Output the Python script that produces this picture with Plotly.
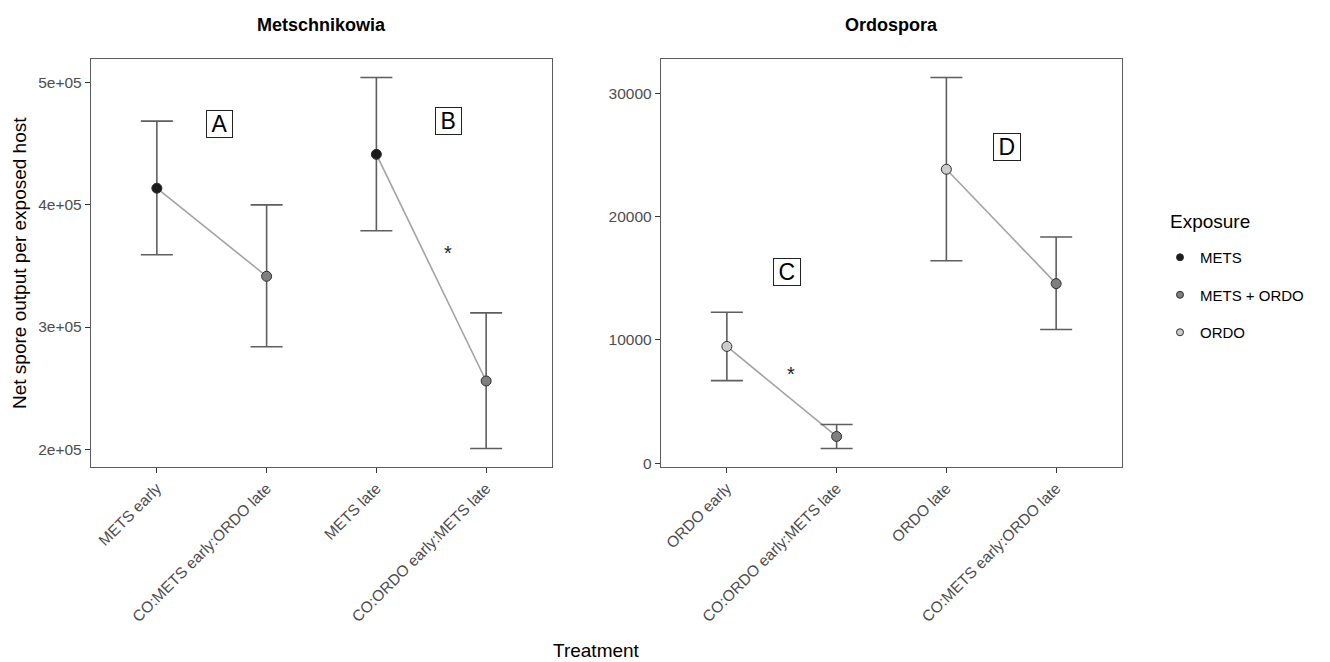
import plotly.graph_objects as go

# ---------------- data ----------------
met_categories = ["METS early", "CO:METS early:ORDO late", "METS late", "CO:ORDO early:METS late"]
met_exposure = ["METS", "METS + ORDO", "METS", "METS + ORDO"]
met_mean = [413700, 341550, 441460, 255790]
met_upper = [468700, 400080, 504360, 311600]
met_lower = [359240, 283830, 378850, 200520]

ord_categories = ["ORDO early", "CO:ORDO early:METS late", "ORDO late", "CO:METS early:ORDO late"]
ord_exposure = ["ORDO", "METS + ORDO", "ORDO", "METS + ORDO"]
ord_mean = [9469, 2158, 23847, 14567]
ord_upper = [12247, 3129, 31292, 18344]
ord_lower = [6690, 1187, 16428, 10844]

met_yticks = [200000, 300000, 400000, 500000]
met_yticktext = ["2e+05", "3e+05", "4e+05", "5e+05"]
ord_yticks = [0, 10000, 20000, 30000]
ord_yticktext = ["0", "10000", "20000", "30000"]

pairs = [[0, 1], [2, 3]]
exposure_levels = ["METS", "METS + ORDO", "ORDO"]
panel_titles = ["Metschnikowia", "Ordospora"]
met_letters = ["A", "B"]
ord_letters = ["C", "D"]

# ---------------- styles ----------------
FONT = "Liberation Sans, Arial, Helvetica, sans-serif"
exposure_colors = {"METS": "#1c1c1c", "METS + ORDO": "#7f7f7f", "ORDO": "#cccccc"}
W, H = 1330, 662
OFF = 8  # page body margin


def px(x):
    return (x - OFF) / W


def py(y):
    return 1 - (y - OFF) / H


fig = go.Figure()


def add_panel(cats, expo, mean, upper, lower, xa, ya):
    # connecting lines within each pair
    for p in pairs:
        fig.add_trace(go.Scatter(
            x=[cats[i] for i in p], y=[mean[i] for i in p], mode="lines",
            line=dict(color="#a3a3a3", width=1.6), showlegend=False,
            hoverinfo="skip", xaxis=xa, yaxis=ya))
    for lvl in exposure_levels:
        idx = [i for i, e in enumerate(expo) if e == lvl]
        if not idx:
            continue
        fig.add_trace(go.Scatter(
            x=[cats[i] for i in idx], y=[mean[i] for i in idx], mode="markers",
            marker=dict(size=10, color=exposure_colors[lvl],
                        line=dict(color="#2e2e2e", width=1)),
            error_y=dict(type="data", symmetric=False,
                         array=[upper[i] - mean[i] for i in idx],
                         arrayminus=[mean[i] - lower[i] for i in idx],
                         color="#5e5e5e", thickness=1.6, width=16),
            name=lvl, showlegend=False, xaxis=xa, yaxis=ya))


add_panel(met_categories, met_exposure, met_mean, met_upper, met_lower, "x", "y")
add_panel(ord_categories, ord_exposure, ord_mean, ord_upper, ord_lower, "x2", "y2")

# legend entries
for k, lvl in enumerate(exposure_levels):
    fig.add_trace(go.Scatter(
        x=[None], y=[None], mode="markers", name=lvl, legendgroup=lvl,
        marker=dict(size=7, color=exposure_colors[lvl], line=dict(color="#2e2e2e", width=1)),
        xaxis="x2", yaxis="y2"))


def yrange(lo_list, hi_list):
    lo, hi = min(lo_list), max(hi_list)
    pad = 0.05 * (hi - lo)
    return [lo - pad, hi + pad]


axis_common = dict(showline=True, mirror=True, linecolor="#5c5c5c", linewidth=1.4,
                   ticks="outside", ticklen=5, tickwidth=1.3, tickcolor="#333333",
                   showgrid=False, zeroline=False, automargin=False,
                   tickfont=dict(family=FONT, size=15.5, color="#4d4d4d"))

ydom = [py(467), py(59)]
fig.update_layout(
    template="none",
    width=W, height=H, margin=dict(l=0, r=0, t=0, b=0, autoexpand=False),
    plot_bgcolor="white", paper_bgcolor="white",
    font=dict(family=FONT, color="black"),
    xaxis=dict(domain=[px(91), px(552)], type="category", categoryorder="array",
               categoryarray=met_categories, range=[-0.6, 3.6], tickangle=-45,
               anchor="y", **axis_common),
    yaxis=dict(domain=ydom, range=yrange(met_lower, met_upper), tickvals=met_yticks,
               ticktext=met_yticktext, anchor="x", **axis_common),
    xaxis2=dict(domain=[px(661), px(1122)], type="category", categoryorder="array",
                categoryarray=ord_categories, range=[-0.6, 3.6], tickangle=-45,
                anchor="y2", **axis_common),
    yaxis2=dict(domain=ydom, range=yrange(ord_lower, ord_upper), tickvals=ord_yticks,
                ticktext=ord_yticktext, anchor="x2", **axis_common),
    legend=dict(x=px(1160), xanchor="left", y=py(241), yanchor="top",
                font=dict(family=FONT, size=15, color="black"),
                traceorder="grouped", tracegroupgap=15, itemwidth=30,
                bgcolor="rgba(0,0,0,0)"),
)

ann = []
mid = dict(xref="paper", yref="paper", showarrow=False, xanchor="center", yanchor="middle")
# panel titles
ann.append(dict(text="<b>%s</b>" % panel_titles[0], x=px((91 + 552) / 2), y=py(25),
                font=dict(size=18, family=FONT), **mid))
ann.append(dict(text="<b>%s</b>" % panel_titles[1], x=px((661 + 1122) / 2), y=py(25),
                font=dict(size=18, family=FONT), **mid))
# axis titles
ann.append(dict(text="Net spore output per exposed host", x=px(19), y=py(263),
                textangle=-90, font=dict(size=19, family=FONT), **mid))
ann.append(dict(text="Treatment", x=px(596), y=py(650),
                font=dict(size=19, family=FONT), **mid))
# legend title
ann.append(dict(text="Exposure", x=px(1168), y=py(221), xref="paper", yref="paper",
                xanchor="left", yanchor="middle", showarrow=False,
                font=dict(size=19, family=FONT)))

box = dict(showarrow=False, bordercolor="#222222", borderwidth=1, borderpad=0,
           bgcolor="white", xanchor="center", yanchor="middle",
           font=dict(size=23, family=FONT, color="black"))
TS = "\u2009"
ann.append(dict(text=TS + met_letters[0] + TS, x=0.571, y=466240, xref="x", yref="y", **box))
ann.append(dict(text=TS + met_letters[1] + TS, x=2.66, y=468700, xref="x", yref="y", **box))
ann.append(dict(text=TS + ord_letters[0] + TS, x=0.545, y=15484, xref="x2", yref="y2", **box))
ann.append(dict(text=TS + ord_letters[1] + TS, x=2.555, y=25627, xref="x2", yref="y2", **box))
star = dict(text="*", showarrow=False, yshift=-5, xanchor="center", yanchor="middle",
            font=dict(size=20, family=FONT, color="#222222"))
ann.append(dict(x=2.65, y=364690, xref="x", yref="y", **star))
ann.append(dict(x=0.58, y=7607, xref="x2", yref="y2", **star))

fig.update_layout(annotations=ann)
fig.write_html("out.html")
